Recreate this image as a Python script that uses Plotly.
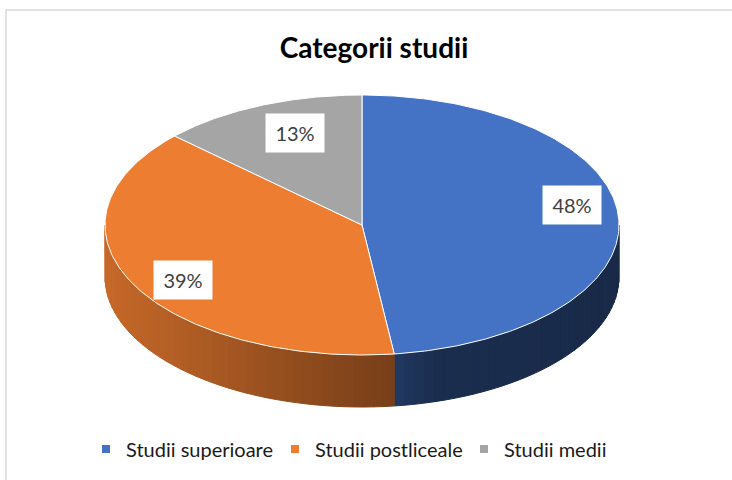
import numpy as np
import plotly.graph_objects as go

# ---- data ----
categories = ["Studii superioare", "Studii postliceale", "Studii medii"]
values = [48, 39, 13]
top_colors = ["#4472C4", "#ED7D31", "#A5A5A5"]
title_text = "Categorii studii"

# ---- geometry / style (screen-pixel-like data units) ----
W, H = 732, 480
OFF = 0  # page body margin removed by post_script below
CX, CY, RX, RY, DEPTH = 362, 225, 257, 130, 52
LABEL_K = 0.78
label_nudge = [(10, -14), (0, 9), (13, 1)]
N_STRIPS = 80


def paper_x(sx):
    return (sx - OFF) / W


def paper_y(sy):
    return 1 - (sy - OFF) / H


def hex_to_rgb(h):
    h = h.lstrip("#")
    return np.array([int(h[i:i + 2], 16) for i in (0, 2, 4)], dtype=float)


def shade(col, f):
    r, g, b = np.clip(hex_to_rgb(col) * f, 0, 255).astype(int)
    return f"rgb({r},{g},{b})"


def rim(phi):
    return CX + RX * np.cos(phi), CY - RY * np.sin(phi)


total = float(sum(values))
cum = np.concatenate([[0.0], np.cumsum(values)]) / total
phis = np.pi / 2 - cum * 2 * np.pi  # decreasing (clockwise)

fig = go.Figure()

# --- side walls (front half only) ---
visible_ranges = [(-np.pi, 0.0), (-3 * np.pi, -2 * np.pi), (np.pi, 2 * np.pi)]
for i, col in enumerate(top_colors):
    p0, p1 = phis[i], phis[i + 1]  # p0 > p1
    for lo, hi in visible_ranges:
        a, b = max(p1, lo), min(p0, hi)
        if b - a <= 1e-6:
            continue
        n = max(2, int(N_STRIPS * (b - a) / np.pi))
        edges = np.linspace(a, b, n + 1)
        for j in range(n):
            ph = np.linspace(edges[j], edges[j + 1], 6)
            xs, ys = rim(ph)
            px = np.concatenate([xs, xs[::-1], [xs[0]]])
            py = np.concatenate([ys, ys[::-1] + DEPTH, [ys[0]]])
            u = np.cos((edges[j] + edges[j + 1]) / 2)
            f = np.interp(u, [-1, 0.1, 0.3, 1], [0.84, 0.51, 0.40, 0.37])
            c = shade(col, f)
            fig.add_trace(go.Scatter(x=px, y=py, fill="toself", mode="lines",
                                     fillcolor=c, line=dict(color=c, width=1),
                                     hoverinfo="skip", showlegend=False))

# --- top faces ---
for i, col in enumerate(top_colors):
    ph = np.linspace(phis[i], phis[i + 1], 200)
    xs, ys = rim(ph)
    px = np.concatenate([[CX], xs, [CX]])
    py = np.concatenate([[CY], ys, [CY]])
    fig.add_trace(go.Scatter(x=px, y=py, fill="toself", mode="lines",
                             fillcolor=col, line=dict(color="white", width=1),
                             name=categories[i], hoverinfo="name", showlegend=False))

# --- legend entries ---
for i, col in enumerate(top_colors):
    fig.add_trace(go.Scatter(x=[None], y=[None], mode="markers",
                             marker=dict(symbol="square", size=8, color=col),
                             name=categories[i], showlegend=True))

# --- data labels ---
for i, v in enumerate(values):
    mid = (phis[i] + phis[i + 1]) / 2
    lx = CX + LABEL_K * RX * np.cos(mid) + label_nudge[i][0]
    ly = CY - LABEL_K * RY * np.sin(mid) + label_nudge[i][1]
    fig.add_annotation(x=lx, y=ly, text=f"{round(v / total * 100)}%", showarrow=False,
                       bgcolor="white", width=56, height=36,
                       font=dict(family="Lato", size=20, color="#404040"))

fig.add_shape(type="rect", xref="paper", yref="paper",
              x0=paper_x(6), y0=paper_y(10), x1=1.05, y1=-0.05,
              line=dict(color="#D9D9D9", width=1.5), fillcolor="rgba(0,0,0,0)")

fig.update_layout(
    width=W, height=H, margin=dict(l=0, r=0, t=0, b=0),
    paper_bgcolor="white", plot_bgcolor="white",
    title=dict(text=f"<b>{title_text}</b>", x=paper_x(374), xanchor="center",
               y=paper_y(48), yanchor="middle",
               font=dict(family="Lato", size=28, color="#000000")),
    xaxis=dict(range=[OFF, W + OFF], visible=False, fixedrange=True),
    yaxis=dict(range=[H + OFF, OFF], visible=False, fixedrange=True),
    legend=dict(orientation="h", x=paper_x(86), xanchor="left", y=paper_y(449), yanchor="middle",
                entrywidth=144, entrywidthmode="pixels",
                font=dict(family="Lato", size=20, color="#1A1A1A"),
                bgcolor="rgba(0,0,0,0)"),
    showlegend=True,
)

fig.write_html("out.html", config={"displayModeBar": False},
               post_script="document.body.style.margin='0';document.body.style.padding='0';")
